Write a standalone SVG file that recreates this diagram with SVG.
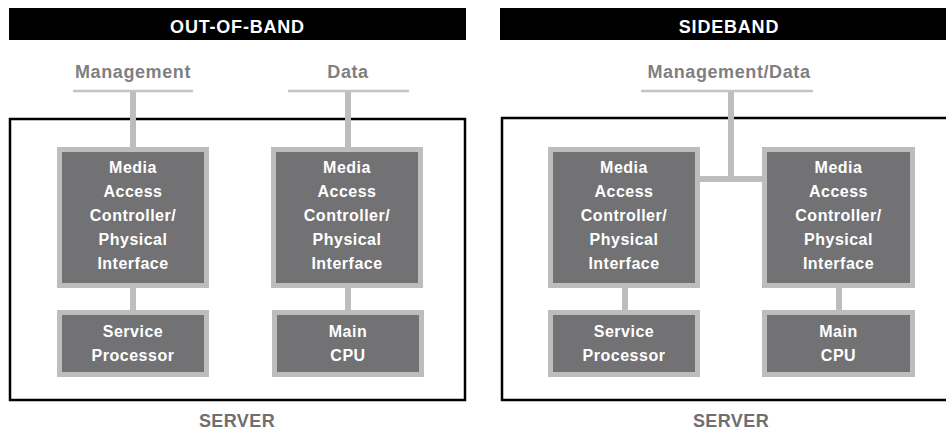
<svg xmlns="http://www.w3.org/2000/svg" width="946" height="432" viewBox="0 0 946 432">
<style>
.hdr{fill:#000}
.hdrt{fill:#fff;font-family:"Liberation Sans",Arial,sans-serif;font-weight:bold;font-size:18px;letter-spacing:0.8px;text-anchor:middle}
.lbl{fill:#7f7f7f;font-family:"Liberation Sans",Arial,sans-serif;font-weight:bold;font-size:18px;letter-spacing:0.6px;text-anchor:middle}
.srv{fill:#6f6f6f;font-family:"Liberation Sans",Arial,sans-serif;font-weight:bold;font-size:18px;letter-spacing:0.4px;text-anchor:middle}
.box{fill:none;stroke:#000;stroke-width:2.5}
.node{fill:#727274;stroke:#bdbdbd;stroke-width:5}
.nt{fill:#fff;font-family:"Liberation Sans",Arial,sans-serif;font-weight:bold;font-size:16px;letter-spacing:0.5px;text-anchor:middle}
.wire{stroke:#bdbdbd;stroke-width:6;fill:none}
.tap{stroke:#c4c4c4;stroke-width:2.5;fill:none}
</style>

<!-- Left panel -->
<rect class="hdr" x="9" y="8" width="457" height="32"/>
<text class="hdrt" x="237.5" y="33">OUT-OF-BAND</text>
<text class="lbl" x="133" y="78">Management</text>
<text class="lbl" x="348" y="78">Data</text>
<rect class="box" x="10" y="119" width="455" height="281"/>
<text class="srv" x="237" y="427">SERVER</text>

<!-- Right panel -->
<rect class="hdr" x="500" y="8" width="446" height="32"/>
<text class="hdrt" x="729" y="33">SIDEBAND</text>
<text class="lbl" x="729" y="78">Management/Data</text>
<rect class="box" x="502" y="118" width="460" height="282"/>
<text class="srv" x="731" y="427">SERVER</text>

<g id="connectors">
  <line class="tap" x1="73" y1="91" x2="193" y2="91"/>
  <line class="wire" x1="133" y1="92" x2="133" y2="150"/>
  <line class="wire" x1="133" y1="286" x2="133" y2="312"/>
  <line class="tap" x1="288" y1="91" x2="409" y2="91"/>
  <line class="wire" x1="348" y1="92" x2="348" y2="150"/>
  <line class="wire" x1="348" y1="286" x2="348" y2="312"/>
  <line class="tap" x1="641" y1="91" x2="813" y2="91"/>
  <line class="wire" x1="731" y1="92" x2="731" y2="182"/>
  <line class="wire" x1="700" y1="179" x2="764" y2="179"/>
  <line class="wire" x1="625" y1="286" x2="625" y2="312"/>
  <line class="wire" x1="839" y1="286" x2="839" y2="312"/>
</g>

<g id="oob-mac1">
  <rect class="node" x="59.5" y="149.5" width="147" height="136"/>
  <text class="nt"><tspan x="133" y="173">Media</tspan><tspan x="133" y="197">Access</tspan><tspan x="133" y="221">Controller/</tspan><tspan x="133" y="245">Physical</tspan><tspan x="133" y="269">Interface</tspan></text>
</g>
<g id="oob-mac2">
  <rect class="node" x="273.5" y="149.5" width="147" height="136"/>
  <text class="nt"><tspan x="347" y="173">Media</tspan><tspan x="347" y="197">Access</tspan><tspan x="347" y="221">Controller/</tspan><tspan x="347" y="245">Physical</tspan><tspan x="347" y="269">Interface</tspan></text>
</g>
<g id="oob-sp">
  <rect class="node" x="59.5" y="312.5" width="147" height="62"/>
  <text class="nt"><tspan x="133" y="337">Service</tspan><tspan x="133" y="361">Processor</tspan></text>
</g>
<g id="oob-cpu">
  <rect class="node" x="274.5" y="312.5" width="147" height="62"/>
  <text class="nt"><tspan x="348" y="337">Main</tspan><tspan x="348" y="361">CPU</tspan></text>
</g>

<g id="sb-mac1">
  <rect class="node" x="550.5" y="149.5" width="147" height="136"/>
  <text class="nt"><tspan x="624" y="173">Media</tspan><tspan x="624" y="197">Access</tspan><tspan x="624" y="221">Controller/</tspan><tspan x="624" y="245">Physical</tspan><tspan x="624" y="269">Interface</tspan></text>
</g>
<g id="sb-mac2">
  <rect class="node" x="764.5" y="149.5" width="148" height="136"/>
  <text class="nt"><tspan x="838.5" y="173">Media</tspan><tspan x="838.5" y="197">Access</tspan><tspan x="838.5" y="221">Controller/</tspan><tspan x="838.5" y="245">Physical</tspan><tspan x="838.5" y="269">Interface</tspan></text>
</g>
<g id="sb-sp">
  <rect class="node" x="550.5" y="312.5" width="147" height="62"/>
  <text class="nt"><tspan x="624" y="337">Service</tspan><tspan x="624" y="361">Processor</tspan></text>
</g>
<g id="sb-cpu">
  <rect class="node" x="764.5" y="312.5" width="148" height="62"/>
  <text class="nt"><tspan x="838.5" y="337">Main</tspan><tspan x="838.5" y="361">CPU</tspan></text>
</g>
</svg>
